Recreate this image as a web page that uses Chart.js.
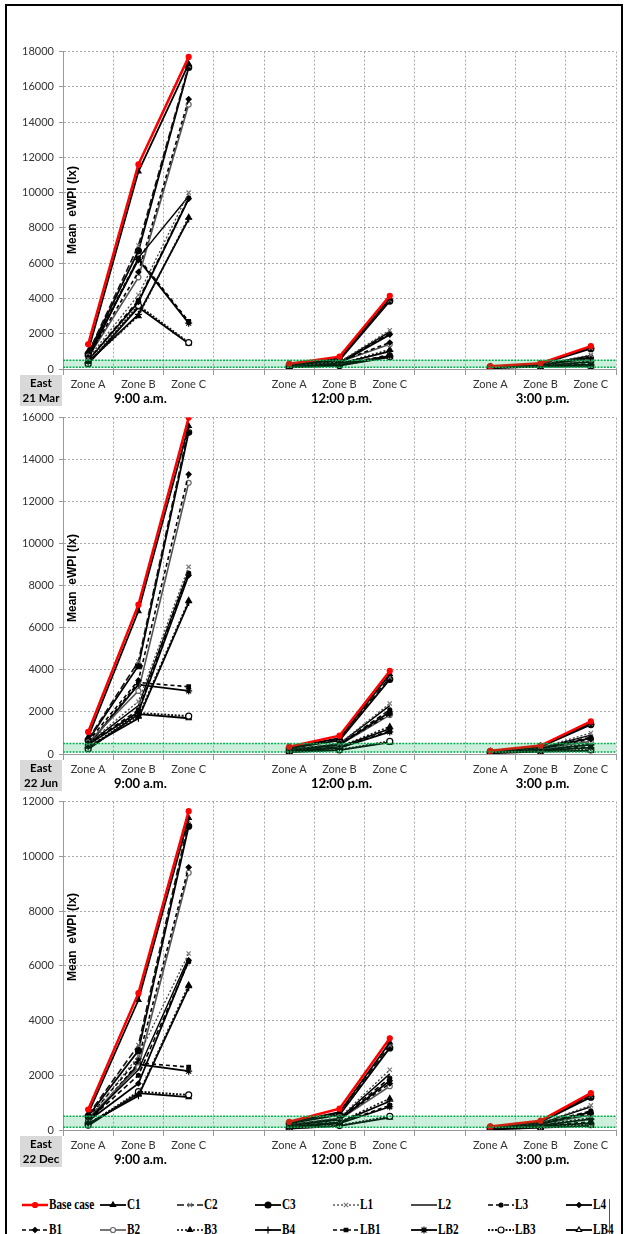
<!DOCTYPE html>
<html><head><meta charset="utf-8">
<script src="https://cdn.jsdelivr.net/npm/chart.js@4.4.1/dist/chart.umd.min.js"></script>
<style>
html,body{margin:0;padding:0;background:#fff;}
#wrap{position:relative;width:626px;height:1234px;overflow:hidden;background:#fff;}
#frame{position:absolute;left:5px;top:4px;width:614px;height:1300px;border:2px solid #000;}
canvas.panel{position:absolute;left:0;}
#legend{position:absolute;left:0;top:1190px;width:626px;height:44px;}
.leg{position:absolute;height:22px;display:flex;align-items:center;}
.leg span{font-family:"Liberation Serif","Times New Roman",serif;font-weight:bold;font-size:14px;color:#000;display:inline-block;transform:scaleX(0.8);transform-origin:left center;white-space:nowrap;margin-left:1px;}
#legbar{position:absolute;left:609px;top:1199px;width:1px;height:40px;background:#555;}
</style></head>
<body><div id="wrap"><div id="frame"></div>
<canvas id="c0" class="panel"></canvas>
<canvas id="c1" class="panel"></canvas>
<canvas id="c2" class="panel"></canvas>
<div id="legend"></div><div id="legbar"></div>
</div>
<script>
// ---------- DATA ----------
const categories = ['Zone A','Zone B','Zone C','','Zone A','Zone B','Zone C','','Zone A','Zone B','Zone C'];
const timeLabels = ['9:00 a.m.','12:00 p.m.','3:00 p.m.'];
const timeLabelIndex = [1,5,9];
const panelDates = [['East','21 Mar'],['East','22 Jun'],['East','22 Dec']];
const yMaxima = [18000,16000,12000];
const yStep = 2000;
const bandRange = [100,500];
const yTitle = 'Mean  eWPI (lx)';
const seriesNames = ['Base case','C1','C2','C3','L1','L2','L3','L4','B1','B2','B3','B4','LB1','LB2','LB3','LB4'];

// rows: series in seriesNames order; columns: categories (null = gap)
const mar21 = [
  [1400,11600,17700,null,300,700,4150,null,150,330,1300],
  [1000,11200,17300,null,250,600,4000,null,130,300,1250],
  [900,7000,17200,null,230,550,3900,null,120,290,1200],
  [850,6700,17100,null,220,500,3850,null,115,280,1150],
  [600,4200,10000,null,180,400,2200,null,100,250,800],
  [550,6300,9800,null,170,380,2100,null,95,240,750],
  [500,3900,9700,null,160,350,2000,null,90,230,700],
  [480,3800,9650,null,150,330,1950,null,85,220,650],
  [700,5500,15300,null,190,420,1500,null,100,240,600],
  [650,5200,15000,null,185,400,1400,null,95,230,550],
  [400,3000,8600,null,140,300,1100,null,80,200,450],
  [380,3100,8500,null,135,290,1000,null,75,190,400],
  [800,6300,2700,null,120,250,800,null,70,180,300],
  [750,6200,2600,null,115,240,750,null,65,170,250],
  [300,3600,1500,null,100,200,700,null,60,150,180],
  [280,3500,1450,null,95,190,680,null,55,140,150]
];
const jun22 = [
  [1050,7100,16000,null,350,870,3950,null,150,400,1550],
  [800,6800,15600,null,300,750,3800,null,130,380,1480],
  [700,4400,15500,null,280,700,3650,null,120,360,1450],
  [650,4200,15300,null,270,650,3550,null,115,340,1400],
  [500,2500,8900,null,220,500,2400,null,100,300,1000],
  [480,2300,8700,null,210,480,2300,null,95,280,900],
  [460,2100,8600,null,200,450,2100,null,90,270,800],
  [440,2000,8500,null,190,430,2000,null,85,260,750],
  [600,3500,13300,null,200,450,1900,null,90,250,700],
  [550,3000,12900,null,195,430,1850,null,85,240,600],
  [350,1800,7300,null,160,350,1300,null,70,200,500],
  [330,1700,7200,null,150,330,1200,null,65,190,450],
  [450,3400,3200,null,140,300,1100,null,60,170,350],
  [420,3300,3000,null,130,290,1050,null,55,160,300],
  [250,1950,1800,null,100,200,600,null,50,130,200],
  [230,1900,1700,null,90,180,550,null,45,120,150]
];
const dec22 = [
  [750,5000,11650,null,300,780,3350,null,130,340,1350],
  [600,4750,11400,null,270,650,3200,null,110,310,1300],
  [550,3100,11300,null,250,600,3100,null,100,300,1250],
  [500,2900,11100,null,240,550,3000,null,95,290,1200],
  [400,2700,6450,null,200,450,2200,null,80,250,900],
  [380,2200,6300,null,190,420,2050,null,75,240,850],
  [350,2000,6150,null,180,400,1900,null,70,230,700],
  [330,1700,6200,null,170,380,1800,null,65,220,650],
  [450,2600,9600,null,180,400,1700,null,70,220,600],
  [420,2300,9400,null,170,380,1600,null,65,210,550],
  [250,1300,5300,null,140,300,1150,null,50,180,450],
  [230,1250,5200,null,130,280,1050,null,45,170,400],
  [300,2450,2300,null,110,250,900,null,40,150,300],
  [280,2400,2150,null,100,240,850,null,35,140,250],
  [180,1400,1280,null,60,160,500,null,20,100,200],
  [160,1350,1200,null,50,150,450,null,15,90,150]
];
const panelData = [mar21, jun22, dec22];

// ---------- STYLES ----------
const seriesColor  = ['#ff0000','#000','#111','#000','#444','#000','#000','#000','#000','#555','#111','#000','#000','#000','#111','#000'];
const seriesWidth  = [2.5,1.8,1.6,1.8,1.3,1.4,1.6,1.8,1.6,1.6,1.6,1.8,1.6,1.8,2.0,1.8];
const seriesDash   = [[],[],[7,3],[],[2,2],[],[5,3],[],[4,3],[],[2,2],[],[4,3],[],[2,1.5],[]];
const seriesPoint  = ['circle','triangle','crossRot','circle','crossRot',false,'circle','rectRot','rectRot','circle','triangle','cross','rect','star','circle','triangle'];
const seriesRadius = [2.5,3,3,3,3,0,2,2.5,2.5,2.5,3,3.5,2.5,3.5,3,3];
const seriesFill   = ['#ff0000','#000','#888','#000','#888','#000','#000','#000','#000','#fff','#000','#000','#000','#000','#fff','#fff'];
const seriesPtLine = ['#ff0000','#000','#777','#000','#777','#000','#000','#000','#000','#666','#000','#000','#000','#000','#000','#000'];

// ---------- LAYOUT ----------
const canvasTop = [40,406,790];
const padTop = [9,8,8];
const plotHeight = [320,340,332];
const xAxisHeight = 40;
const yAxisWidth = 63;
const titleCenterY = [210,578,937];
const titleX = 73;

const tickFont = {family:'Lato', size:11};
const tickColor = '#333';

function decor(i){
  return {
    id:'decor'+i,
    afterDatasetsDraw(chart){
      const {ctx, chartArea:a, scales:{y}} = chart;
      const yTop = y.getPixelForValue(bandRange[1]);
      const yBot = y.getPixelForValue(bandRange[0]);
      ctx.save();
      ctx.fillStyle = 'rgba(0,176,80,0.2)';
      ctx.fillRect(a.left, yTop, a.right-a.left, yBot-yTop);
      ctx.strokeStyle = '#00b050';
      ctx.lineWidth = 1.5;
      ctx.setLineDash([2,1.2]);
      [yTop,yBot].forEach(v=>{ctx.beginPath();ctx.moveTo(a.left,v);ctx.lineTo(a.right,v);ctx.stroke();});
      ctx.restore();
    },
    afterDraw(chart){
      const {ctx, chartArea:a, scales:{x}} = chart;
      ctx.save();
      ctx.translate(titleX, titleCenterY[i]-canvasTop[i]);
      ctx.rotate(-Math.PI/2);
      ctx.fillStyle = '#000';
      ctx.font = 'bold 12px "Liberation Sans", Arial, sans-serif';
      ctx.textAlign = 'center'; ctx.textBaseline = 'middle';
      ctx.fillText(yTitle, 0, 0);
      ctx.restore();
      ctx.save();
      ctx.fillStyle = '#d9d9d9';
      ctx.fillRect(20, a.bottom+6, 42, 31);
      ctx.fillStyle = '#000';
      ctx.font = 'bold 11.5px Lato, sans-serif';
      ctx.textAlign = 'center'; ctx.textBaseline = 'middle';
      ctx.fillText(panelDates[i][0], 41, a.bottom+14);
      ctx.fillText(panelDates[i][1], 41, a.bottom+29);
      ctx.font = 'bold 13px Lato, sans-serif';
      timeLabels.forEach((t,k)=>{
        ctx.fillText(t, x.getPixelForValue(timeLabelIndex[k])+2, a.bottom+30);
      });
      ctx.restore();
    }
  };
}

function makePanel(i){
  const cv = document.getElementById('c'+i);
  const h = padTop[i]+plotHeight[i]+xAxisHeight;
  cv.width = 626; cv.height = h;
  cv.style.width='626px'; cv.style.height=h+'px'; cv.style.top=canvasTop[i]+'px';
  const datasets = seriesNames.map((name,s)=>({
    label:name,
    data:panelData[i][s],
    borderColor:seriesColor[s],
    borderWidth:seriesWidth[s],
    borderDash:seriesDash[s],
    pointStyle:seriesPoint[s]||'circle',
    pointRadius:seriesPoint[s]?seriesRadius[s]:0,
    pointBackgroundColor:seriesFill[s],
    pointBorderColor:seriesPtLine[s],
    pointBorderWidth:1.2,
    spanGaps:false, tension:0, fill:false
  }));
  new Chart(cv,{
    type:'line',
    data:{labels:categories, datasets},
    options:{
      responsive:false, animation:false, devicePixelRatio:1,
      layout:{padding:{left:0,right:10,top:padTop[i],bottom:0}},
      plugins:{legend:{display:false}, tooltip:{enabled:false}},
      scales:{
        x:{
          type:'category', offset:true,
          grid:{offset:true, color:'#a8a8a8', lineWidth:1, tickLength:6, tickColor:'#999', tickBorderDash:[]},
          border:{display:true, color:'#9a9a9a', width:1, dash:[2,2]},
          ticks:{autoSkip:false, maxRotation:0, padding:3, font:tickFont, color:tickColor},
          afterFit:s=>{s.height = xAxisHeight;}
        },
        y:{
          min:0, max:yMaxima[i],
          grid:{color:'#a8a8a8', lineWidth:1, tickLength:4, tickColor:'#999', tickBorderDash:[]},
          border:{display:true, color:'#9a9a9a', width:1, dash:[2,2]},
          ticks:{stepSize:yStep, padding:5, font:tickFont, color:tickColor, callback:v=>String(v)},
          afterFit:s=>{s.width = yAxisWidth;}
        }
      }
    },
    plugins:[decor(i)]
  });
}
[0,1,2].forEach(makePanel);

// ---------- LEGEND ----------
const legendX0 = 22, legendPitch = 77.7, legendRowY = [1205,1230], legendLegendTop = 1190;
const legend = document.getElementById('legend');
function drawMarker(ctx, s, x, y){
  if(!seriesPoint[s]) return;
  ctx.setLineDash([]);
  ctx.fillStyle = seriesFill[s];
  ctx.strokeStyle = seriesPtLine[s];
  ctx.lineWidth = 1.2;
  if (Chart.helpers && Chart.helpers.drawPoint){
    Chart.helpers.drawPoint(ctx,{pointStyle:seriesPoint[s], radius:seriesRadius[s], borderWidth:1.2, rotation:0}, x, y);
  } else {
    ctx.beginPath(); ctx.arc(x,y,seriesRadius[s],0,Math.PI*2); ctx.fill(); ctx.stroke();
  }
}
seriesNames.forEach((name,s)=>{
  const row = Math.floor(s/8), col = s%8;
  const d = document.createElement('div');
  d.className='leg';
  d.style.left = (legendX0+col*legendPitch)+'px';
  d.style.top = (legendRowY[row]-legendLegendTop-11)+'px';
  const c = document.createElement('canvas');
  c.width = 26; c.height = 14; c.style.width='26px'; c.style.height='14px';
  const ctx = c.getContext('2d');
  ctx.strokeStyle = seriesColor[s];
  ctx.lineWidth = seriesWidth[s];
  ctx.setLineDash(seriesDash[s]);
  ctx.beginPath(); ctx.moveTo(0,7); ctx.lineTo(26,7); ctx.stroke();
  drawMarker(ctx, s, 13, 7);
  const t = document.createElement('span');
  t.textContent = name;
  d.appendChild(c); d.appendChild(t);
  legend.appendChild(d);
});
</script>
</body></html>
